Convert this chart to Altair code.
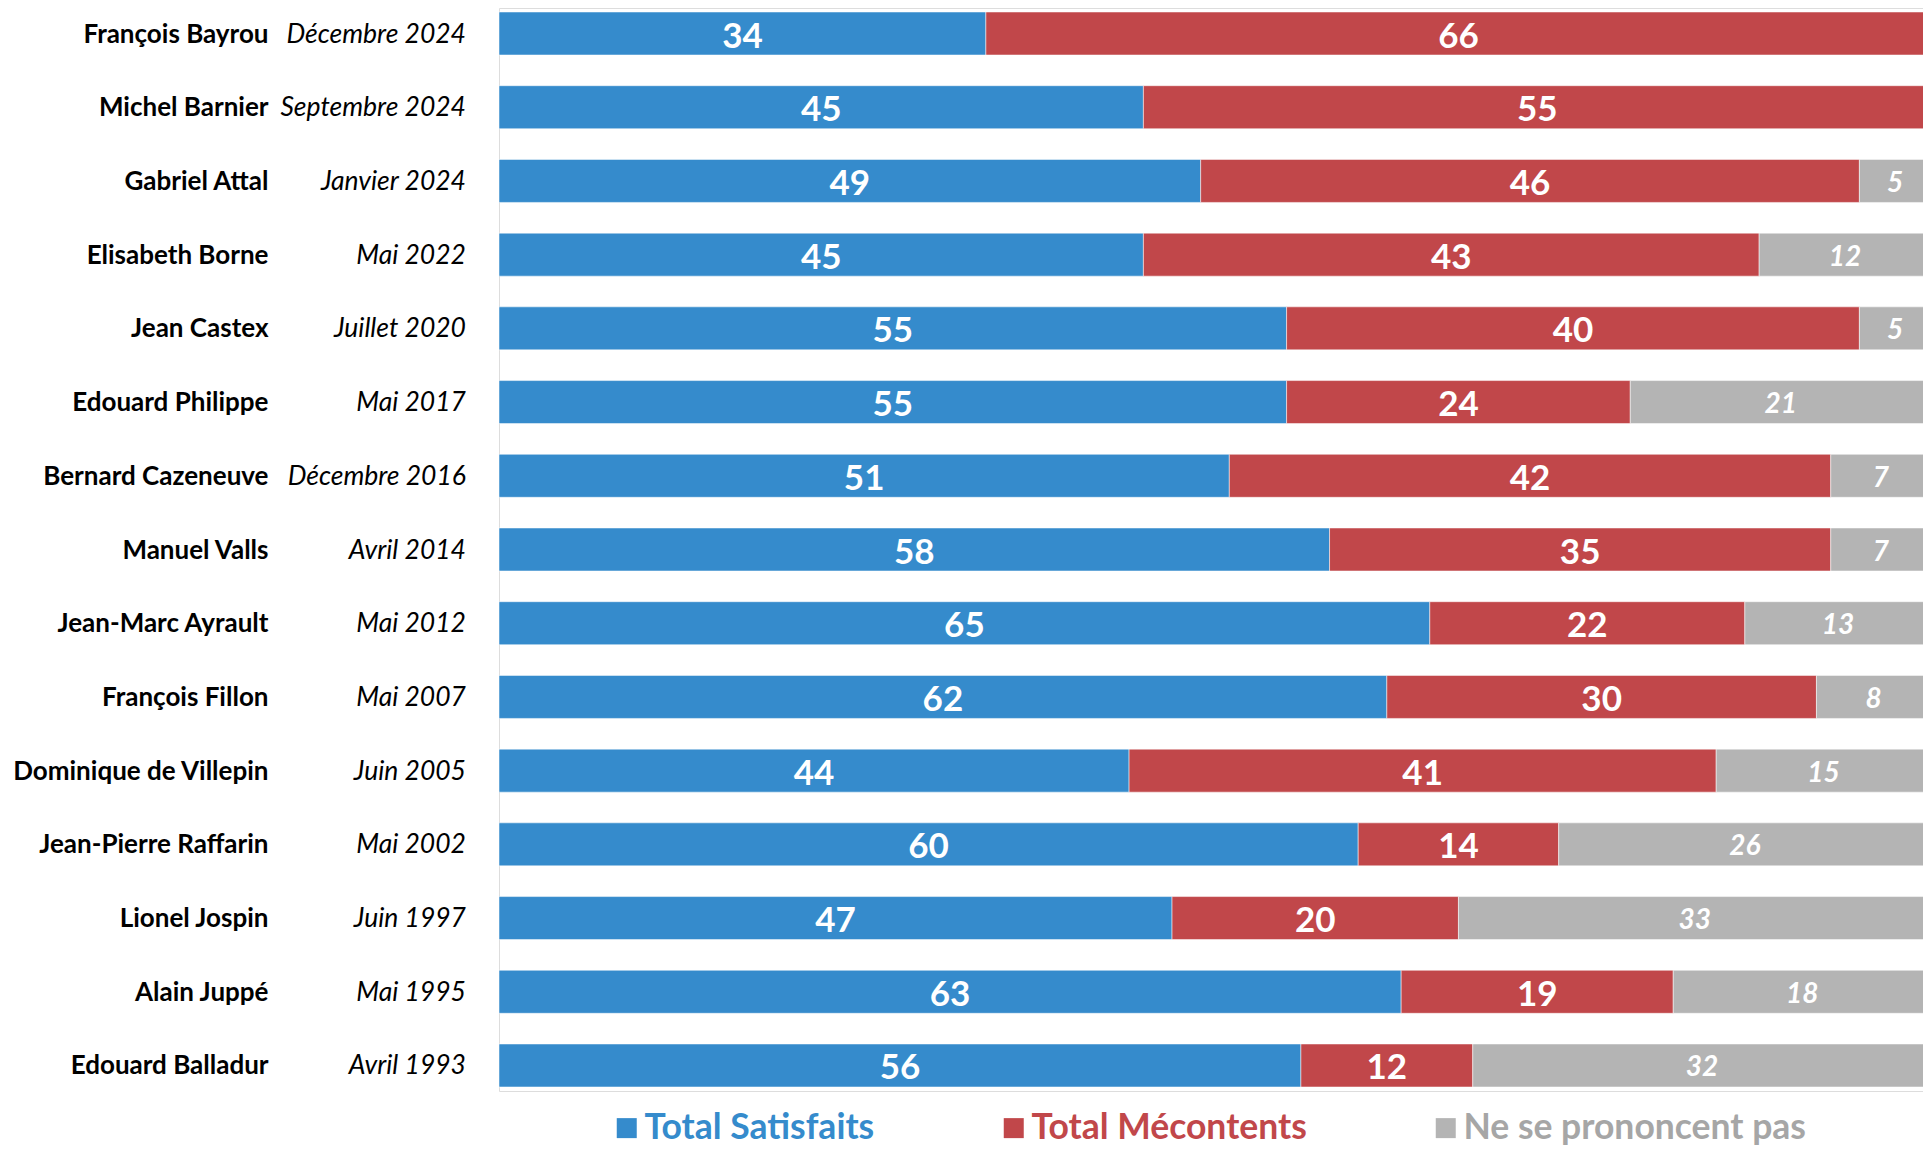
import altair as alt
import pandas as pd

noms = ["François Bayrou", "Michel Barnier", "Gabriel Attal", "Elisabeth Borne",
        "Jean Castex", "Edouard Philippe", "Bernard Cazeneuve", "Manuel Valls",
        "Jean-Marc Ayrault", "François Fillon", "Dominique de Villepin",
        "Jean-Pierre Raffarin", "Lionel Jospin", "Alain Juppé", "Edouard Balladur"]
dates = ["Décembre 2024", "Septembre 2024", "Janvier 2024", "Mai 2022",
         "Juillet 2020", "Mai 2017", "Décembre 2016", "Avril 2014", "Mai 2012",
         "Mai 2007", "Juin 2005", "Mai 2002", "Juin 1997", "Mai 1995", "Avril 1993"]
satisfaits = [34, 45, 49, 45, 55, 55, 51, 58, 65, 62, 44, 60, 47, 63, 56]
mecontents = [66, 55, 46, 43, 40, 24, 42, 35, 22, 30, 41, 14, 20, 19, 12]
nsp = [0, 0, 5, 12, 5, 21, 7, 7, 13, 8, 15, 26, 33, 18, 32]

categories = ["Total Satisfaits", "Total Mécontents", "Ne se prononcent pas"]
colors = ["#358BCC", "#C1474A", "#B4B4B4"]
legend_text_colors = ["#358BCC", "#C1474A", "#A6A6A6"]

rows = []
for i, nom in enumerate(noms):
    for k, vals in enumerate([satisfaits, mecontents, nsp]):
        rows.append({"nom": nom, "date": dates[i], "cat": categories[k],
                     "ord": k, "valeur": vals[i]})
df = pd.DataFrame(rows)

FONT = "Lato"

y_enc = alt.Y(
    "nom:N", sort=noms,
    scale=alt.Scale(paddingInner=0.4166, paddingOuter=0.0543),
    axis=alt.Axis(title=None, domain=False, ticks=False, grid=False,
                  labelPadding=231, labelFont=FONT, labelFontSize=26,
                  labelFontWeight="bold", labelColor="black",
                  labelAlign="right", labelBaseline="middle",
                  labelOffset=1, labelLimit=600),
)
# the 100 % end of the bars sits just past the right edge of the picture
x_scale = alt.Scale(domain=[0, 100], nice=False, zero=True, range=[0, 1432])

label_color_expr = "[" + ",".join("'%s'" % c for c in legend_text_colors) + "][datum.index]"

base = alt.Chart(df)

bars = base.transform_filter("datum.valeur > 0").mark_bar(
    stroke="white", strokeWidth=1, strokeOpacity=0.5
).encode(
    y=y_enc,
    x=alt.X("valeur:Q", stack="zero", scale=x_scale, axis=None),
    color=alt.Color(
        "cat:N",
        scale=alt.Scale(domain=categories, range=colors),
        legend=alt.Legend(
            title=None, orient="none", legendX=110, legendY=1102,
            direction="horizontal", symbolType="square", symbolSize=400,
            symbolStrokeWidth=0, symbolOpacity=1, labelFont=FONT,
            labelFontSize=35.5, labelFontWeight="bold",
            labelColor=alt.ExprRef(expr=label_color_expr),
            labelOffset=0, columnPadding=121, padding=0, labelLimit=800,
        ),
    ),
    order=alt.Order("ord:Q"),
)

stacked = base.transform_filter("datum.valeur > 0").transform_stack(
    stack="valeur", groupby=["nom"], sort=[alt.SortField("ord")], as_=["x0", "x1"]
).transform_calculate(mid="(datum.x0 + datum.x1) / 2")

big_labels = stacked.transform_filter("datum.ord < 2").mark_text(
    font=FONT, fontWeight="bold", fontSize=35, color="white",
    baseline="middle", align="center", dy=3
).encode(
    y=alt.Y("nom:N", sort=noms),
    x=alt.X("mid:Q", scale=x_scale, axis=None),
    text=alt.Text("valeur:Q"),
)

small_labels = stacked.transform_filter("datum.ord == 2").mark_text(
    font=FONT, fontWeight="bold", fontStyle="italic", fontSize=28,
    color="white", baseline="middle", align="center", dy=3
).encode(
    y=alt.Y("nom:N", sort=noms),
    x=alt.X("mid:Q", scale=x_scale, axis=None),
    text=alt.Text("valeur:Q"),
)

date_labels = base.transform_filter("datum.ord == 0").mark_text(
    font=FONT, fontStyle="italic", fontSize=26.5, color="black",
    baseline="middle", align="right", dy=1
).encode(
    y=alt.Y("nom:N", sort=noms),
    x=alt.value(-33),
    text=alt.Text("date:N"),
)

chart = alt.layer(bars, big_labels, small_labels, date_labels).properties(
    width=1424, height=1083,
    autosize=alt.AutoSizeParams(type="none"),
    padding={"left": 491, "top": 0, "right": 0, "bottom": 56},
).configure_view(stroke="transparent", strokeWidth=0).configure(background="white")

chart.save("out.html", embed_options={"renderer": "svg", "actions": False})
